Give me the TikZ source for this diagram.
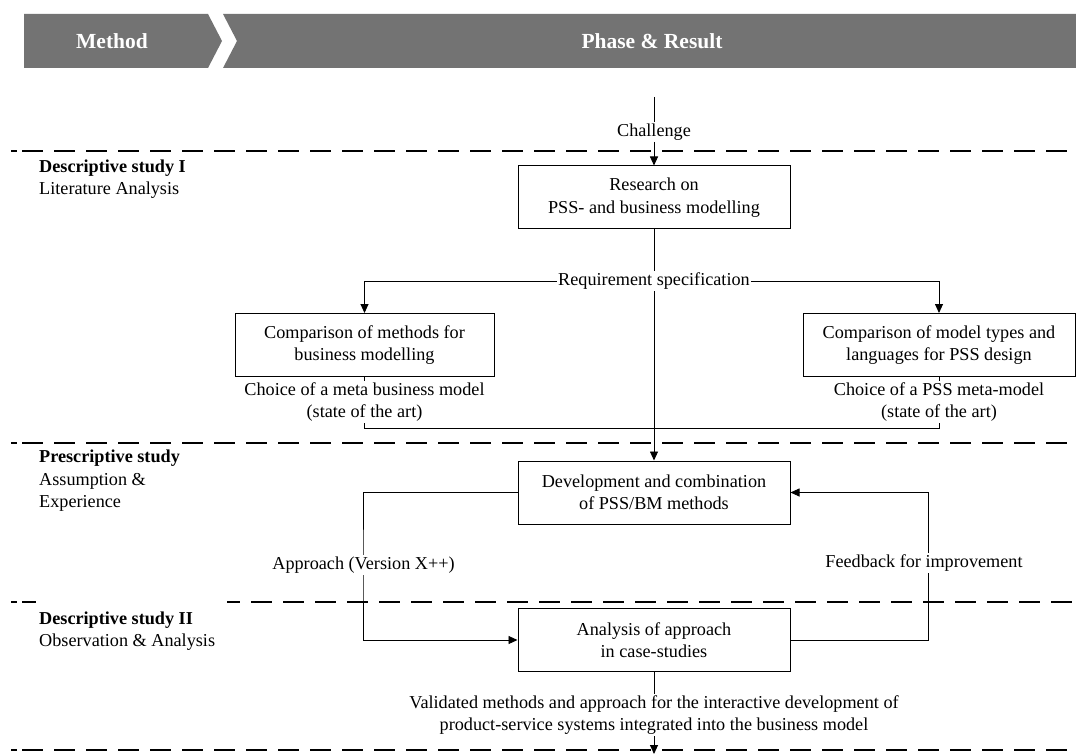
\documentclass[tikz,border=0pt]{standalone}
\usepackage{fontspec}
\setmainfont{Liberation Serif}
\usetikzlibrary{arrows.meta}
\definecolor{hdr}{RGB}{115,115,115}
\begin{document}
\begin{tikzpicture}[x=1pt,y=-1pt,
  box/.style={draw,line width=1pt,minimum width=272pt,minimum height=63pt,align=center,inner sep=0pt,font=\fontsize{18.2}{22.5}\selectfont},
  txt/.style={align=center,inner sep=1.5pt,font=\fontsize{18.2}{22.5}\selectfont},
  lbl/.style={txt,fill=white},
  side/.style={align=left,anchor=west,inner sep=0pt,font=\fontsize{18.2}{22.5}\selectfont},
  head/.style={text=white,inner sep=0pt,font=\fontsize{21.5}{26}\selectfont\bfseries},
  arr/.style={line width=0.9pt,-{Triangle[length=9pt,width=8pt]}},
  con/.style={line width=0.9pt},
  sep/.style={line width=2.7pt,dash pattern=on 21pt off 11pt},
  sepsolid/.style={line width=2.7pt},
]
\useasboundingbox (0,0) rectangle (1076,754);
% header
\fill[hdr] (24,14) -- (208,14) -- (222,41) -- (208,68) -- (24,68) -- cycle;
\fill[hdr] (223,14) -- (1076,14) -- (1076,68) -- (223,68) -- (237,41) -- cycle;
\node[head] (hm) at (112,41) {Method};
\node[head] (hp) at (652,41) {Phase \& Result};
% separators
\foreach \yy in {151,443,750} {
  \draw[sepsolid] (11,\yy) -- (17,\yy);
  \draw[sep] (22,\yy) -- (1076,\yy);
}
\draw[sepsolid] (11,602) -- (17,602);
\draw[sepsolid] (22,602) -- (36,602);
\draw[sep,dash phase=8pt] (227,602) -- (1076,602);
% side labels
\node[side] (s1) at (39,179) {\textbf{Descriptive study I}\\Literature Analysis};
\node[side] (s2) at (39,481) {\textbf{Prescriptive study}\\Assumption \&\\Experience};
\node[side] (s3) at (39,631) {\textbf{Descriptive study II}\\Observation \& Analysis};
% boxes
\node[box] (b1) at (654,197.5) {Research on\\PSS- and business modelling};
\node[box,minimum width=259pt] (lb) at (364.5,345) {Comparison of methods for\\business modelling};
\node[box] (rb) at (939,345) {Comparison of model types and\\languages for PSS design};
\node[box] (b3) at (654,492.5) {Development and combination\\of PSS/BM methods};
\node[box] (b4) at (654,640) {Analysis of approach\\in case-studies};
% texts
\coordinate (top) at (654,97);
\node[txt] (ch) at (654,132) {Challenge};
\node[txt] (req) at (654,281) {Requirement specification};
\node[txt] (val) at (654,715) {Validated methods and approach for the interactive development of\\product-service systems integrated into the business model};
\coordinate (bot) at (654,754);
\coordinate (join) at (654,428);
% connectors
\draw[con] (top) -- (ch);
\draw[arr] (ch) -- (b1);
\draw[con] (b1) -- (req);
\draw[arr] (req) -- (b3);
\draw[arr] (req.east) -| (rb.north);
\draw[arr] (req.west) -| (lb.north);
\draw[con] (lb.south) |- (join);
\draw[con] (rb.south) |- (join);
\draw[arr] (b3.west) -| (363,566) |- (b4.west);
\draw[arr] (b4.east) -| (928,566) |- (b3.east);
\draw[con] (b4) -- (val);
\draw[arr] (val) -- (bot);
% labels on lines
\node[lbl] (c1) at (364.5,402) {Choice of a meta business model\\(state of the art)};
\node[lbl] (c2) at (939,402) {Choice of a PSS meta-model\\(state of the art)};
\node[lbl] (ap) at (363.5,565) {Approach (Version X++)};
\node[lbl] (fb) at (924,563) {Feedback for improvement};
\end{tikzpicture}
\end{document}
